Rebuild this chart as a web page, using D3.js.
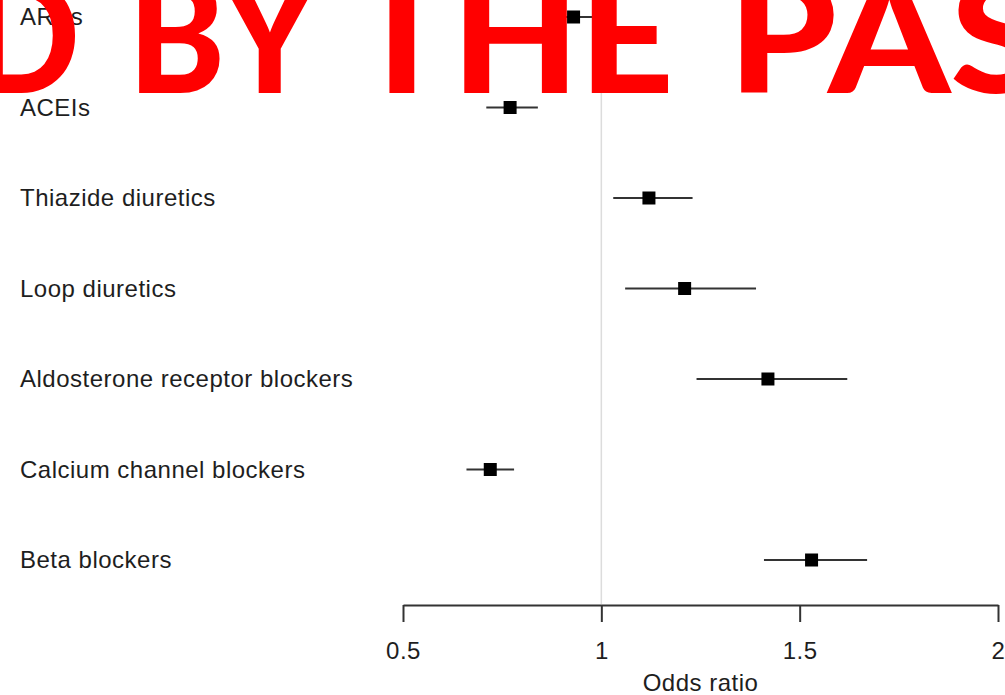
<!DOCTYPE html>
<html>
<head>
<meta charset="utf-8">
<script src="https://cdn.jsdelivr.net/npm/d3@7"></script>
<style>
  body { margin: 0; background: #fff; }
  svg { display: block; font-family: "Liberation Sans", Arial, sans-serif; }
</style>
</head>
<body>
<div id="forest"></div>
<script>
// drug classes, top to bottom
const drugs = ["ARBs", "ACEIs", "Thiazide diuretics", "Loop diuretics",
               "Aldosterone receptor blockers", "Calcium channel blockers", "Beta blockers"];
const oddsRatio = [0.93, 0.77, 1.12, 1.21, 1.42, 0.72, 1.53];
const ciLow     = [0.86, 0.71, 1.03, 1.06, 1.24, 0.66, 1.41];
const ciHigh    = [0.99, 0.84, 1.23, 1.39, 1.62, 0.78, 1.67];
const xTicks = [0.5, 1, 1.5, 2];

const width = 1005, height = 695;

let plotData = drugs.map((d, i) => ({"drug": d, "or": oddsRatio[i], "lo": ciLow[i], "hi": ciHigh[i]}));

let svg = d3.select("#forest")
            .append("svg")
                .attr("width", width)
                .attr("height", height);

let x = d3.scaleLinear()
            .domain([0.5, 2])
            .range([403, 998]);

let y = d3.scalePoint()
            .domain(drugs)
            .range([17, 560]);

// reference line at OR = 1
svg.append("line")
    .attr("x1", x(1)).attr("x2", x(1))
    .attr("y1", 0).attr("y2", 604)
    .attr("stroke", "#dcdcdc")
    .attr("stroke-width", 1.5);

// bottom axis
let axis = svg.append("g")
    .attr("transform", "translate(0,605)")
    .call(d3.axisBottom(x).tickValues(xTicks).tickFormat(d3.format("")).tickSize(17).tickSizeOuter(0));
axis.select(".domain").attr("stroke", "#333").attr("stroke-width", 2);
axis.selectAll(".tick line").attr("stroke", "#333").attr("stroke-width", 2);
axis.selectAll(".tick text")
    .attr("fill", "#1e1e1e")
    .attr("y", 37)
    .attr("dy", "0.71em")
    .style("font-size", "24px")
    .style("letter-spacing", "0.5px")
    .style("font-family", "Liberation Sans, Arial, sans-serif");

svg.append("text")
    .attr("x", x(1.25))
    .attr("y", 691)
    .attr("text-anchor", "middle")
    .attr("fill", "#1e1e1e")
    .style("font-size", "24px")
    .style("letter-spacing", "0.5px")
    .text("Odds ratio");

// row labels
svg.selectAll("text.label")
    .data(plotData)
    .join("text")
        .attr("class", "label")
        .attr("x", 20)
        .attr("y", d => y(d["drug"]))
        .attr("dy", "0.35em")
        .attr("fill", "#1e1e1e")
        .style("font-size", "24px")
        .style("letter-spacing", "0.5px")
        .text(d => d["drug"]);

// confidence intervals
svg.selectAll("line.ci")
    .data(plotData)
    .join("line")
        .attr("class", "ci")
        .attr("x1", d => x(d["lo"]))
        .attr("x2", d => x(d["hi"]))
        .attr("y1", d => y(d["drug"]))
        .attr("y2", d => y(d["drug"]))
        .attr("stroke", "#333")
        .attr("stroke-width", 2);

// point estimates
svg.selectAll("rect.pt")
    .data(plotData)
    .join("rect")
        .attr("class", "pt")
        .attr("x", d => x(d["or"]) - 6.5)
        .attr("y", d => y(d["drug"]) - 6.5)
        .attr("width", 13)
        .attr("height", 13)
        .attr("fill", "#000");

// red overlay text, cut at the top and side edges (one piece per word)
const stamp = [
    {"t": "D",   "x": -30, "len": 110},
    {"t": "BY",  "x": 128, "len": 190},
    {"t": "THE", "x": 352, "len": 322},
    {"t": "PAS", "x": 728, "len": 318}
];
svg.selectAll("text.stamp")
    .data(stamp)
    .join("text")
        .attr("class", "stamp")
        .attr("x", d => d.x)
        .attr("y", 93)
        .attr("fill", "#ff0000")
        .attr("textLength", d => d.len)
        .attr("lengthAdjust", "spacingAndGlyphs")
        .style("font-family", "Lato, sans-serif")
        .style("font-weight", 900)
        .style("font-size", "158px")
        .text(d => d.t);
</script>
</body>
</html>
